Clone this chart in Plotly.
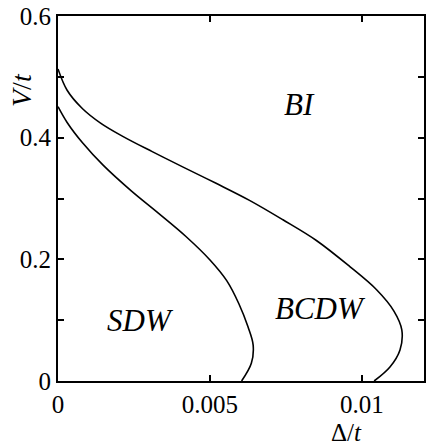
import plotly.graph_objects as go

# Outer boundary (BCDW / BI)
outer_delta = [0.0, 0.0003, 0.0008, 0.0014, 0.0021, 0.0031, 0.0041, 0.0052, 0.0063,
               0.0074, 0.0085, 0.0096, 0.01048, 0.01105, 0.01131, 0.01125, 0.01092, 0.0104]
outer_v = [0.513, 0.478, 0.448, 0.424, 0.403, 0.377, 0.352, 0.325, 0.297,
           0.265, 0.231, 0.188, 0.150, 0.115, 0.084, 0.051, 0.023, 0.0]

# Inner boundary (SDW / BCDW)
inner_delta = [0.0, 0.0003, 0.0008, 0.0015, 0.0024, 0.0033, 0.0042, 0.0050,
               0.00555, 0.00595, 0.00625, 0.00642, 0.00636, 0.00604]
inner_v = [0.451, 0.425, 0.392, 0.354, 0.313, 0.276, 0.238, 0.199,
           0.165, 0.127, 0.089, 0.059, 0.029, 0.0]

# Region labels
region_text = ["BI", "SDW", "BCDW"]
region_x = [0.00796, 0.0027, 0.00862]
region_y = [0.454, 0.100, 0.120]

x_tickvals = [0, 0.005, 0.01]
x_ticktext = ["0", "0.005", "0.01"]
y_tickvals = [0, 0.1, 0.2, 0.3, 0.4, 0.5, 0.6]
y_ticktext = ["0", "", "0.2", "", "0.4", "", "0.6"]

FONT = "Liberation Serif"

W, H = 426, 448
ML, MR, MT, MB = 58, 2, 16, 67
pw, ph = W - ML - MR, H - MT - MB


def px_to_domain(px, py):
    return (px - ML) / pw, 1 - (py - MT) / ph


fig = go.Figure()
for xs, ys in [(outer_delta, outer_v), (inner_delta, inner_v)]:
    fig.add_trace(go.Scatter(x=xs, y=ys, mode="lines",
                             line=dict(color="black", width=1.6, shape="spline", smoothing=1.0),
                             showlegend=False, hoverinfo="skip"))

for t, x, y in zip(region_text, region_x, region_y):
    fig.add_annotation(x=x, y=y, xref="x", yref="y", text="<i>%s</i>" % t,
                       showarrow=False, xanchor="center", yanchor="middle",
                       font=dict(family=FONT, size=31, color="black"))

vx, vy = px_to_domain(21, 90)
fig.add_annotation(x=vx, y=vy, xref="x domain", yref="y domain", text="<i>V</i>/<i>t</i>",
                   showarrow=False, textangle=-90, xanchor="center", yanchor="middle",
                   font=dict(family=FONT, size=28, color="black"))
dx, dy = px_to_domain(346, 432)
fig.add_annotation(x=dx, y=dy, xref="x domain", yref="y domain", text="Δ/<i>t</i>",
                   showarrow=False, xanchor="center", yanchor="middle",
                   font=dict(family=FONT, size=25, color="black"))

fig.update_layout(
    width=W, height=H,
    margin=dict(l=ML, r=MR, t=MT, b=MB, autoexpand=False),
    paper_bgcolor="white", plot_bgcolor="white",
    font=dict(family=FONT, size=25, color="black"),
)

fig.update_xaxes(range=[0, 0.01204], tickvals=x_tickvals, ticktext=x_ticktext,
                 ticks="inside", ticklen=6, tickwidth=1.5, tickcolor="black",
                 showline=True, linecolor="black", linewidth=2, mirror="ticks",
                 showgrid=False, zeroline=False, automargin=False,
                 ticklabeloverflow="allow",
                 tickfont=dict(family=FONT, size=25))
fig.update_yaxes(range=[0, 0.6], tickvals=y_tickvals, ticktext=y_ticktext,
                 ticks="inside", ticklen=6, tickwidth=1.5, tickcolor="black",
                 showline=True, linecolor="black", linewidth=2, mirror="ticks",
                 showgrid=False, zeroline=False, automargin=False,
                 ticklabeloverflow="allow",
                 tickfont=dict(family=FONT, size=25))

fig.write_html("out.html", config={"displayModeBar": False},
               post_script="document.body.style.margin='0';document.body.style.padding='0';")
